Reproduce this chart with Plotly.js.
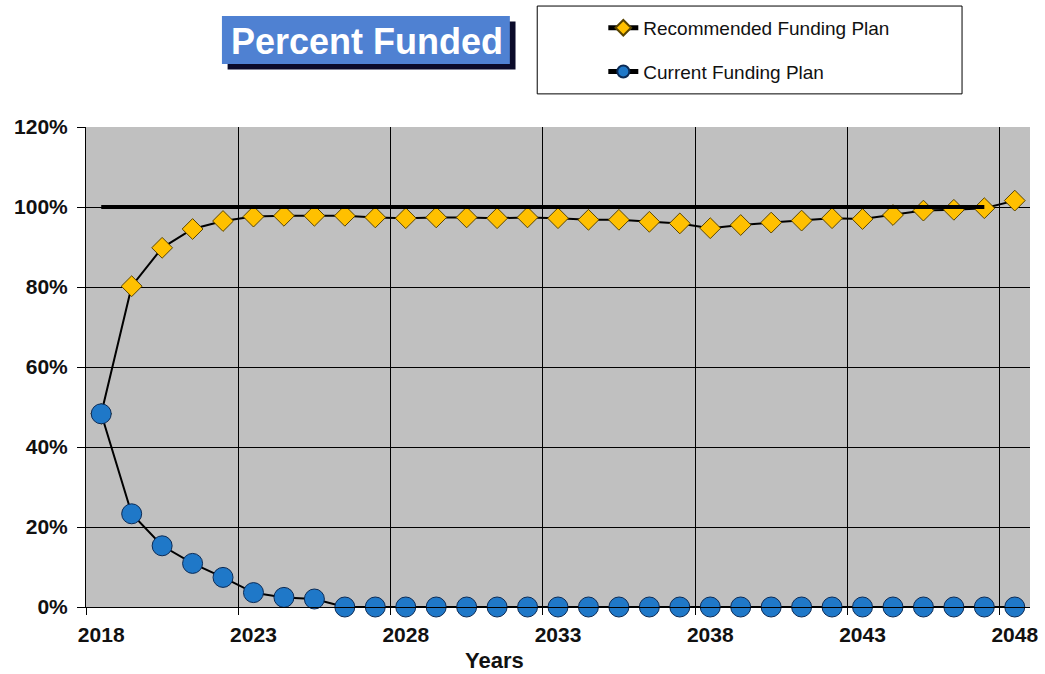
<!DOCTYPE html>
<html>
<head>
<meta charset="utf-8">
<script src="https://cdn.plot.ly/plotly-3.0.1.min.js"></script>
<style>html,body{margin:0;padding:0;background:#fff;}#chart{width:1045px;height:674px;}</style>
</head>
<body>
<div id="chart"></div>
<script>
const years = [2018,2019,2020,2021,2022,2023,2024,2025,2026,2027,2028,2029,2030,2031,2032,2033,2034,2035,2036,2037,2038,2039,2040,2041,2042,2043,2044,2045,2046,2047,2048];
const recommended = [0.483,0.802,0.898,0.945,0.965,0.976,0.978,0.978,0.978,0.974,0.972,0.974,0.974,0.972,0.974,0.972,0.968,0.968,0.963,0.959,0.947,0.955,0.961,0.966,0.972,0.970,0.980,0.991,0.993,0.997,1.016];
const current = [0.483,0.233,0.153,0.109,0.074,0.036,0.024,0.020,0,0,0,0,0,0,0,0,0,0,0,0,0,0,0,0,0,0,0,0,0,0,0];
const targetYears = [2018,2047];
const targetValues = [1.0,1.0];
const seriesNames = ["Recommended Funding Plan","Current Funding Plan"];
const yTickVals = [0,0.2,0.4,0.6,0.8,1.0,1.2];
const xTickVals = [2018,2023,2028,2033,2038,2043,2048];

const traces = [
  {x: years, y: recommended, name: seriesNames[0], type: 'scatter', mode: 'lines+markers',
   legendgroup: 'a', cliponaxis: false,
   line: {color: '#000000', width: 2},
   marker: {symbol: 'diamond', size: 16, color: '#FFC000', line: {color: '#5a4500', width: 1}}},
  {x: years, y: current, name: seriesNames[1], type: 'scatter', mode: 'lines+markers',
   legendgroup: 'b', cliponaxis: false,
   line: {color: '#000000', width: 2},
   marker: {symbol: 'circle', size: 20, color: '#1F78C8', line: {color: '#0b2a55', width: 1}}},
  {x: targetYears, y: targetValues, type: 'scatter', mode: 'lines', showlegend: false,
   hoverinfo: 'skip', line: {color: '#000000', width: 4}}
];

const layout = {
  width: 1045, height: 674,
  paper_bgcolor: '#ffffff', plot_bgcolor: '#c0c0c0',
  margin: {l: 86, r: 15, t: 127, b: 67, autoexpand: false},
  font: {family: 'Arial, Liberation Sans, sans-serif', color: '#111111'},
  title: {text: 'Percent Funded', font: {size: 36, color: '#ffffff', family: 'Arial, Liberation Sans, sans-serif', weight: 'bold'},
          x: 367 / 1045, xanchor: 'center', xref: 'container', y: 1 - 41 / 674, yref: 'container', yanchor: 'middle'},
  showlegend: true,
  legend: {x: 0.548, y: 1.246, xanchor: 'left', yanchor: 'top',
           bgcolor: 'rgba(0,0,0,0)',
           borderwidth: 0, traceorder: 'grouped', tracegroupgap: 16, itemsizing: 'constant',
           font: {size: 19, color: '#111111', family: 'Arial, Liberation Sans, sans-serif'}},
  xaxis: {range: [2017.5, 2048.5], tickvals: xTickVals, ticks: '', showgrid: false, zeroline: false,
          showline: true, linecolor: '#000000', linewidth: 1, ticklabelstandoff: 9,
          tickfont: {size: 21, color: '#111111', weight: 'bold'},
          minor: {tick0: 2017.5, dtick: 5, ticks: 'outside', ticklen: 7, tickcolor: '#000000',
                  showgrid: true, gridcolor: '#000000', gridwidth: 1}},
  yaxis: {range: [0, 1.2], tickvals: yTickVals, tickformat: '.0%', ticks: 'outside', ticklen: 8,
          tickcolor: '#000000', showgrid: true, gridcolor: '#000000', gridwidth: 1, zeroline: false,
          showline: true, linecolor: '#000000', linewidth: 1, ticklabelstandoff: 5,
          tickfont: {size: 21, color: '#111111', weight: 'bold'}},
  shapes: [
    {type: 'rect', xref: 'paper', yref: 'paper', x0: 0.150, x1: 0.455, y0: 1.120, y1: 1.220,
     fillcolor: '#0b0b2a', line: {width: 0}, layer: 'above'},
    {type: 'rect', xref: 'paper', yref: 'paper', x0: 0.144, x1: 0.449, y0: 1.131, y1: 1.231,
     fillcolor: '#4f81d2', line: {width: 0}, layer: 'above'},
    {type: 'rect', xref: 'paper', yref: 'paper', x0: 0.478, x1: 0.928, y0: 1.069, y1: 1.252,
     fillcolor: 'rgba(255,255,255,0)', line: {color: '#000000', width: 1}, layer: 'above'}
  ],
  annotations: [
    {text: '<b>Years</b>', xref: 'paper', yref: 'paper', x: (494 - 86) / 944, y: -(660 - 607) / 480,
     xanchor: 'center', yanchor: 'middle', showarrow: false, font: {size: 22, color: '#111111'}}
  ]
};

Plotly.newPlot('chart', traces, layout, {displayModeBar: false, staticPlot: true});
</script>
</body>
</html>
